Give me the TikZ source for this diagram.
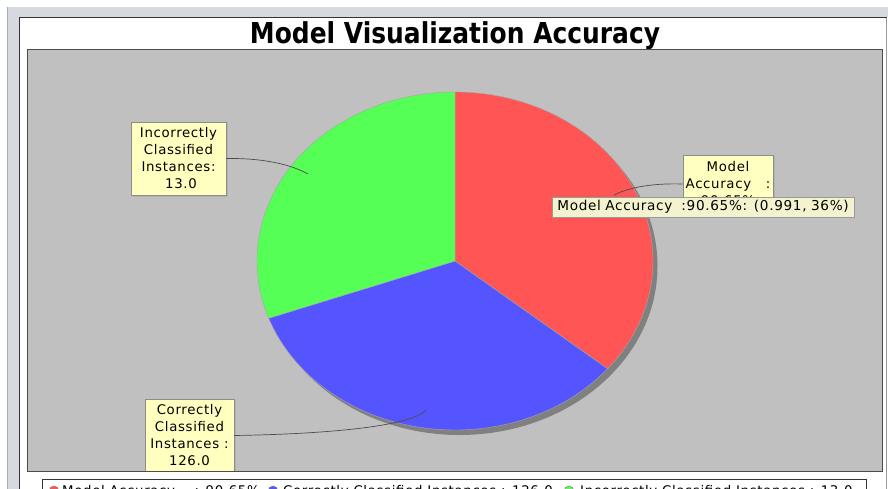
\documentclass[tikz,border=0pt]{standalone}
\usepackage{fontspec}
\usepackage{graphicx}
\setmainfont{DejaVu Sans}
\newfontfamily\labfont[LetterSpace=5]{DejaVu Sans}
\usetikzlibrary{shadows}

\definecolor{framegray}{HTML}{D6D9DF}
\definecolor{frameedge}{HTML}{A9ADB3}
\definecolor{plotgray}{HTML}{C0C0C0}
\definecolor{slicered}{HTML}{FF5555}
\definecolor{sliceblue}{HTML}{5555FF}
\definecolor{slicegreen}{HTML}{55FF55}
\definecolor{shadowgray}{HTML}{808080}
\definecolor{labelfill}{HTML}{FFFFC0}
\definecolor{tipfill}{HTML}{F3F3CF}

\tikzset{
  pielabel/.style={draw=black!45, fill=labelfill, line width=0.8pt, inner sep=0pt,
    align=center, font=\labfont\fontsize{13.3}{17}\selectfont,
    general shadow={fill=black!30, shadow xshift=1.5pt, shadow yshift=-1.5pt}},
  labelline/.style={draw=black!70, line width=0.7pt},
  slice/.style={draw=black!35, line width=0.4pt},
  legendtext/.style={anchor=west, inner sep=0pt, font=\labfont\fontsize{13.3}{17}\selectfont},
  legenddot/.style={circle, inner sep=0pt, minimum size=10pt, draw=black!50, line width=0.5pt}
}

\begin{document}
\begin{tikzpicture}[x=1pt,y=1pt]
\useasboundingbox (0,0) rectangle (888,-489);
\begin{scope}
\clip (0,0) rectangle (888,-489);

% window frame
\fill[white] (0,0) rectangle (888,-489);
\fill[framegray] (7,-7) rectangle (888,-17);
\fill[framegray] (7,-17) rectangle (19,-489);
\draw[frameedge, line width=1pt] (7.5,-7) -- (7.5,-489);

% chart panel
\fill[white] (19,-17) rectangle (887,-489);
\draw[black!80, line width=1.2pt] (19.6,-489) -- (19.6,-17.6) -- (887,-17.6);
\draw[black!40, line width=1pt] (886.5,-17.6) -- (886.5,-489);

% title
\node[font=\bfseries\fontsize{24}{24}\selectfont, inner sep=0pt] (title) at (455,-35.5)
  {\resizebox{410pt}{1.2\height}{Model Visualization Accuracy}};

% plot area
\fill[plotgray] (27,-50) rectangle (882,-471);
\begin{scope}
\clip (27,-50) rectangle (882,-471);

\coordinate (c) at (455,-261);
% pie shadow
\fill[shadowgray] (459.5,-266) ellipse [x radius=198, y radius=169];
% slices
\filldraw[slice, fill=slicered] (c) -- ++(90:198 and 169)
  arc[start angle=90, end angle=-39.6, x radius=198, y radius=169] -- cycle;
\filldraw[slice, fill=sliceblue] (c) -- ++(-39.6:198 and 169)
  arc[start angle=-39.6, end angle=-160.2, x radius=198, y radius=169] -- cycle;
\filldraw[slice, fill=slicegreen] (c) -- ++(-160.2:198 and 169)
  arc[start angle=-160.2, end angle=-270, x radius=198, y radius=169] -- cycle;

% label anchor points inside the slices
\coordinate (pwrong) at (308,-174);
\coordinate (pacc) at (614,-195);
\coordinate (pright) at (426,-410);

% section labels
\node[pielabel, minimum width=95pt, minimum height=73pt] (lblwrong) at (178.5,-158.5)
  {Incorrectly\\Classified\\Instances:\\\ 13.0};
\node[pielabel, minimum width=90pt, minimum height=58pt] (lblacc) at (728,-184)
  {Model\\Accuracy\ \ \ :\\90.65\%};
\node[pielabel, minimum width=89pt, minimum height=73pt] (lblright) at (189.5,-435.5)
  {Correctly\\Classified\\Instances :\\126.0};

% label links
\draw[labelline] (lblwrong.east) .. controls (262,-158) and (290,-164) .. (pwrong);
\draw[labelline] (lblacc.west) .. controls (650,-183) and (628,-188) .. (pacc);
\draw[labelline] (lblright.east) .. controls (330,-434) and (412,-426) .. (pright);

% tooltip
\node[draw=black!40, fill=tipfill, line width=0.8pt, anchor=west, inner xsep=5pt, inner ysep=0pt,
  minimum height=20pt, text width=292pt, align=left,
  font=\labfont\fontsize{13.6}{17}\selectfont] (tip) at (552,-207)
  {Model Accuracy\ \ :90.65\%: (0.991, 36\%)};
\end{scope}
\draw[black!70, line width=1pt] (27,-50) rectangle (882,-471);

% legend
\draw[black!80, fill=white, line width=1pt] (42,-479.5) rectangle (866,-520);
\node[legenddot, fill=slicered] (dotacc) at (54,-491) {};
\node[legendtext] (legacc) at (62,-491.5) {Model Accuracy\ \ \ \ : 90.65\%};
\node[legenddot, fill=sliceblue] (dotright) at (273,-491) {};
\node[legendtext] (legright) at (283,-491.5) {Correctly Classified Instances : 126.0};
\node[legenddot, fill=slicegreen] (dotwrong) at (569,-491) {};
\node[legendtext] (legwrong) at (580,-491.5) {Incorrectly Classified Instances : 13.0};
\end{scope}
\end{tikzpicture}
\end{document}
